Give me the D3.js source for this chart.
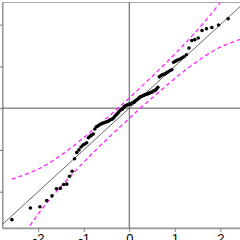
<!DOCTYPE html>
<html lang="en">
<head>
    <meta charset="utf-8">
    <title>Normal QQ plot</title>
    <script src="https://d3js.org/d3.v7.min.js"></script>
    <style>
        body{
            margin: 0;
            background: #fff;
        }
        text.tick-label{
            font-family: "Liberation Sans", Arial, sans-serif;
            font-size: 13px;
            fill: #000;
        }
    </style>
</head>
<body>
    <div id="chart"></div>
    <script>

    // sorted sample values (n = 100)
    var sample = [
        -2.67, -2.39, -2.36, -2.21, -2.10, -1.93, -1.92, -1.83, -1.82, -1.63,
        -1.51, -1.21, -1.06, -1.00, -0.93, -0.885, -0.86, -0.83, -0.71, -0.67,
        -0.645, -0.62, -0.50, -0.445, -0.43, -0.405, -0.38, -0.37, -0.355, -0.345,
        -0.33, -0.32, -0.31, -0.285, -0.27, -0.26, -0.235, -0.20, -0.165, -0.14,
        -0.105, -0.07, -0.045, -0.03, -0.01, 0.03, 0.055, 0.065, 0.08, 0.09,
        0.10, 0.10, 0.125, 0.14, 0.15, 0.175, 0.20, 0.22, 0.245, 0.27,
        0.28, 0.295, 0.305, 0.32, 0.33, 0.34, 0.355, 0.365, 0.38, 0.39,
        0.415, 0.425, 0.46, 0.50, 0.75, 0.775, 0.80, 0.81, 0.825, 0.85,
        0.87, 0.90, 0.92, 1.10, 1.125, 1.15, 1.17, 1.20, 1.23, 1.28,
        1.44, 1.62, 1.64, 1.68, 1.86, 1.90, 1.93, 1.99, 2.14, 2.33
    ]

    // confidence envelope at these normal quantiles
    var bandZ     = [-2.576, -2.17, -1.96, -1.695, -1.44, -1.15, -0.86, -0.54, -0.266, 0, 0.266, 0.54, 0.86, 1.15, 1.44, 1.695, 1.96, 2.17, 2.576]
    var bandUpper = [-1.70, -1.54, -1.44, -1.27, -1.08, -0.84, -0.58, -0.28, -0.02, 0.245, 0.515, 0.80, 1.14, 1.465, 1.805, 2.12, 2.48, 2.80, 3.53]
    var bandLower = [-3.53, -2.80, -2.48, -2.12, -1.805, -1.465, -1.14, -0.80, -0.515, -0.245, 0.02, 0.28, 0.58, 0.84, 1.08, 1.27, 1.44, 1.54, 1.70]

    // reference line y = intercept + slope * x
    var lineIntercept = 0
    var lineSlope = 1

    var xTicks = [-2, -1, 0, 1, 2]
    var yTicks = [-2, -1, 0, 1, 2]

    var width = 240
    var height = 240
    var plot = {left: 2.5, top: 2.5, right: 256, bottom: 228}

    // inverse normal cdf (Acklam)
    function qnorm(p){
        var a = [-39.69683028665376, 220.9460984245205, -275.9285104469687, 138.3577518672690, -30.66479806614716, 2.506628277459239]
        var b = [-54.47609879822406, 161.5858368580409, -155.6989798598866, 66.80131188771972, -13.28068155288572]
        var c = [-0.007784894002430293, -0.3223964580411365, -2.400758277161838, -2.549732539343734, 4.374664141464968, 2.938163982698783]
        var d = [0.007784695709041462, 0.3224671290700398, 2.445134137142996, 3.754408661907416]
        var q, r
        if (p < 0.02425){
            q = Math.sqrt(-2 * Math.log(p))
            return (((((c[0]*q+c[1])*q+c[2])*q+c[3])*q+c[4])*q+c[5]) / ((((d[0]*q+d[1])*q+d[2])*q+d[3])*q+1)
        }
        if (p > 1 - 0.02425){
            q = Math.sqrt(-2 * Math.log(1 - p))
            return -(((((c[0]*q+c[1])*q+c[2])*q+c[3])*q+c[4])*q+c[5]) / ((((d[0]*q+d[1])*q+d[2])*q+d[3])*q+1)
        }
        q = p - 0.5
        r = q * q
        return (((((a[0]*r+a[1])*r+a[2])*r+a[3])*r+a[4])*r+a[5])*q / (((((b[0]*r+b[1])*r+b[2])*r+b[3])*r+b[4])*r+1)
    }

    var n = sample.length
    var points = sample.map(function(v, i){
        return {z: qnorm((i + 0.5) / n), y: v}
    })

    // R style 4% padding
    var xExt = d3.extent(points, d => d.z)
    var yExt = d3.extent(sample)
    var xPad = (xExt[1] - xExt[0]) * 0.04
    var yPad = (yExt[1] - yExt[0]) * 0.04

    var x = d3.scaleLinear()
        .domain([xExt[0] - xPad, xExt[1] + xPad])
        .range([plot.left, plot.right])
    var y = d3.scaleLinear()
        .domain([yExt[0] - yPad, yExt[1] + yPad])
        .range([plot.bottom, plot.top])

    var svg = d3.select("#chart")
      .append("svg")
        .attr("width", width)
        .attr("height", height)

    // box
    svg.append("rect")
        .attr("x", plot.left)
        .attr("y", plot.top)
        .attr("width", plot.right - plot.left)
        .attr("height", plot.bottom - plot.top)
        .attr("fill", "none")
        .attr("stroke", "#aaa")
        .attr("stroke-width", 1)

    // bottom axis
    var xAxis = svg.append("g")
        .attr("transform", "translate(0," + plot.bottom + ")")
        .call(d3.axisBottom(x).tickValues(xTicks).tickSize(4).tickSizeOuter(0).tickFormat(d3.format("d")))
    xAxis.select(".domain").attr("stroke", "#999").attr("stroke-width", 1.5)
    xAxis.selectAll(".tick line").attr("stroke", "#888")
    xAxis.selectAll(".tick text")
        .attr("class", "tick-label")
        .attr("y", 6)
        .text(d => String(d))

    // left axis
    var yAxis = svg.append("g")
        .attr("transform", "translate(" + plot.left + ",0)")
        .call(d3.axisLeft(y).tickValues(yTicks).tickSize(4).tickSizeOuter(0))
    yAxis.select(".domain").attr("stroke", "#888")
    yAxis.selectAll(".tick line").attr("stroke", "#777")
    yAxis.selectAll(".tick text").attr("class", "tick-label")

    // zero lines
    svg.append("line")
        .attr("x1", plot.left).attr("x2", plot.right)
        .attr("y1", y(0)).attr("y2", y(0))
        .attr("stroke", "#555")
        .attr("stroke-width", 1)
    svg.append("line")
        .attr("x1", x(0)).attr("x2", x(0))
        .attr("y1", plot.top).attr("y2", plot.bottom)
        .attr("stroke", "#555")
        .attr("stroke-width", 1)

    var clip = svg.append("clipPath").attr("id", "plotClip")
      .append("rect")
        .attr("x", plot.left)
        .attr("y", plot.top)
        .attr("width", plot.right - plot.left)
        .attr("height", plot.bottom - plot.top)

    var inner = svg.append("g").attr("clip-path", "url(#plotClip)")

    // reference line
    var xd = x.domain()
    inner.append("line")
        .attr("x1", x(xd[0])).attr("y1", y(lineIntercept + lineSlope * xd[0]))
        .attr("x2", x(xd[1])).attr("y2", y(lineIntercept + lineSlope * xd[1]))
        .attr("stroke", "#666")
        .attr("stroke-width", 1)

    // envelope
    var band = d3.line()
        .x(d => x(d[0]))
        .y(d => y(d[1]))
        .curve(d3.curveMonotoneX)

    inner.append("path")
        .datum(d3.zip(bandZ, bandUpper))
        .attr("d", band)
        .attr("fill", "none")
        .attr("stroke", "#ff22ff")
        .attr("stroke-width", 1.3)
        .attr("stroke-dasharray", "4,3")

    inner.append("path")
        .datum(d3.zip(bandZ, bandLower))
        .attr("d", band)
        .attr("fill", "none")
        .attr("stroke", "#ff22ff")
        .attr("stroke-width", 1.3)
        .attr("stroke-dasharray", "4,3")

    // points
    inner.selectAll("circle.pt")
        .data(points)
        .enter()
        .append("circle")
        .attr("class", "pt")
        .attr("cx", d => x(d.z))
        .attr("cy", d => y(d.y))
        .attr("r", 1.8)
        .attr("fill", "#000")

    </script>
</body>
</html>
